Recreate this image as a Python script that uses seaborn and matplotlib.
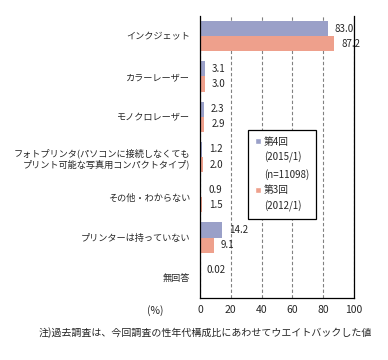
import numpy as np
import pandas as pd
import seaborn as sns
from matplotlib import pyplot as plt
from matplotlib.patches import Patch

# categories and values (%)
categories = ["インクジェット", "カラーレーザー", "モノクロレーザー",
              "フォトプリンタ(パソコンに接続しなくても\nプリント可能な写真用コンパクトタイプ)",
              "その他・わからない", "プリンターは持っていない", "無回答"]
round4 = [83.0, 3.1, 2.3, 1.2, 0.9, 14.2, 0.02]
round3 = [87.2, 3.0, 2.9, 2.0, 1.5, 9.1, np.nan]
series_names = ["第4回", "第3回"]
x_ticks = [0, 20, 40, 60, 80, 100]

color_palette = {"第4回": "#9AA0C8", "第3回": "#EEA08C"}

sns.set_style("white")
plt.rcParams["font.family"] = ["Noto Sans CJK JP", "DejaVu Sans"]
plt.rcParams["font.size"] = 7

df = pd.DataFrame({
    "category": categories * 2,
    "value": round4 + round3,
    "series": [series_names[0]] * len(categories) + [series_names[1]] * len(categories),
})

fig = plt.figure(figsize=(3.88, 3.6), dpi=100)
ax = fig.add_axes([0.5155, 0.1722, 0.397, 0.7833])

sns.barplot(data=df, y="category", x="value", hue="series", order=categories,
            hue_order=series_names, palette=color_palette, width=0.75,
            linewidth=0, saturation=1, orient="h", ax=ax, legend=False)

# value labels
for cont in ax.containers:
    labels = []
    for v in cont.datavalues:
        if np.isnan(v):
            labels.append("")
        elif v < 0.1:
            labels.append(f"{v:.2f}")
        else:
            labels.append(f"{v:.1f}")
    ax.bar_label(cont, labels=labels, padding=5, fontsize=7)

ax.set_xlim(0, 100)
ax.set_xticks(x_ticks)
ax.set_xlabel("")
ax.set_ylabel("")
ax.grid(axis="x", linestyle=(0, (3, 2)), color="#808080", linewidth=0.8)
ax.set_axisbelow(True)
ax.tick_params(axis="x", length=0, pad=5, labelsize=7.5)
ax.tick_params(axis="y", which="major", length=0, pad=7, labelsize=6.6)
ax.set_yticks(np.arange(-0.5, len(categories)), minor=True)
ax.tick_params(axis="y", which="minor", length=2.5, width=0.8, direction="out", color="black")

for side in ["left", "bottom", "right"]:
    ax.spines[side].set_visible(True)
    ax.spines[side].set_color("black")
    ax.spines[side].set_linewidth(0.9)
ax.spines["top"].set_visible(False)

ax.text(-0.29, -0.043, "(%)", transform=ax.transAxes, ha="center", va="center", fontsize=7.5)

# legend with multi-line entries
blank = Patch(facecolor="none", edgecolor="none")
handles = [Patch(facecolor=color_palette["第4回"]), blank, blank,
           Patch(facecolor=color_palette["第3回"]), blank]
labels = ["第4回", "(2015/1)", "(n=11098)", "第3回", "(2012/1)"]
leg = ax.legend(handles, labels, loc="upper left", bbox_to_anchor=(0.312, 0.596),
                fontsize=7, frameon=True, fancybox=False, framealpha=1,
                edgecolor="black", handlelength=0.6, handleheight=0.6,
                handletextpad=0.3, labelspacing=0.55, borderpad=0.7, borderaxespad=0)
leg.get_frame().set_linewidth(0.9)

fig.text(0.528, 0.075, "注)過去調査は、今回調査の性年代構成比にあわせてウエイトバックした値",
         ha="center", va="center", fontsize=7.2)

fig.savefig("out.png", dpi=100)
